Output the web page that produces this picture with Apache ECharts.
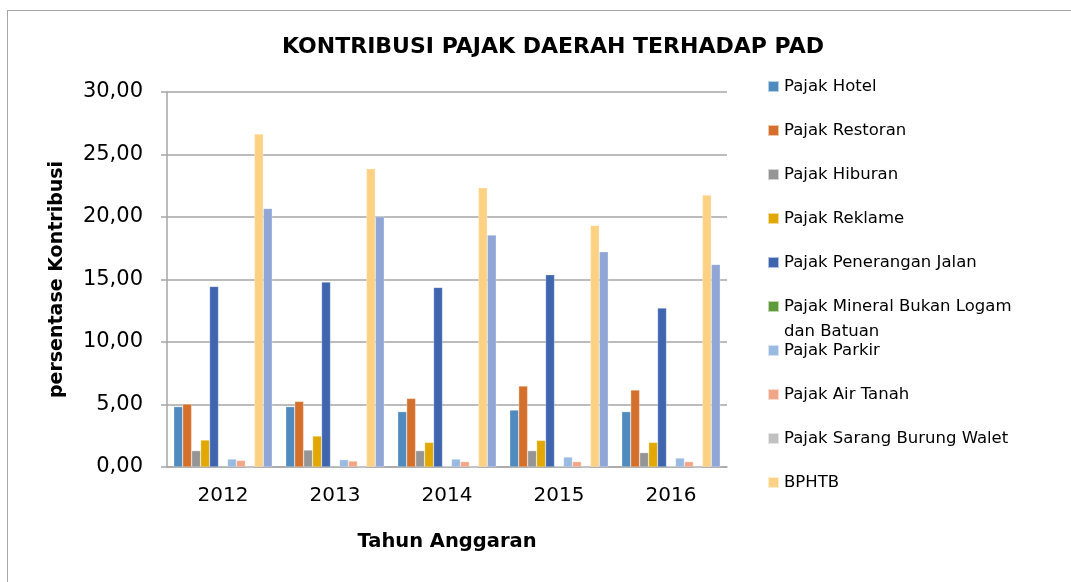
<!DOCTYPE html>
<html>
<head>
<meta charset="utf-8">
<script src="https://cdn.jsdelivr.net/npm/echarts@6/dist/echarts.min.js"></script>
<style>
html,body{margin:0;padding:0;background:#fff;}
#frame{position:absolute;left:7px;top:10px;width:1064px;height:572px;border-left:1.5px solid #a6a6a6;border-top:1.5px solid #a6a6a6;box-sizing:border-box;}
#chart{position:absolute;left:0;top:0;width:1071px;height:582px;}
</style>
</head>
<body>
<div id="frame"></div>
<div id="chart"></div>
<script>
const years = ['2012', '2013', '2014', '2015', '2016'];
const seriesNames = ['Pajak Hotel', 'Pajak Restoran', 'Pajak Hiburan', 'Pajak Reklame', 'Pajak Penerangan Jalan', 'Pajak Mineral Bukan Logam dan Batuan', 'Pajak Parkir', 'Pajak Air Tanah', 'Pajak Sarang Burung Walet', 'BPHTB', 'PBB'];
const pajakHotel      = [4.83, 4.83, 4.43, 4.56, 4.43];
const pajakRestoran   = [5.04, 5.25, 5.49, 6.48, 6.16];
const pajakHiburan    = [1.31, 1.36, 1.31, 1.31, 1.15];
const pajakReklame    = [2.16, 2.48, 1.97, 2.13, 1.97];
const pajakPenerangan = [14.45, 14.80, 14.37, 15.39, 12.72];
const pajakMineral    = [0.08, 0.08, 0.05, 0.05, 0.05];
const pajakParkir     = [0.64, 0.59, 0.64, 0.80, 0.72];
const pajakAirTanah   = [0.53, 0.48, 0.43, 0.43, 0.43];
const pajakWalet      = [0.01, 0.01, 0.01, 0.01, 0.01];
const bphtb           = [26.64, 23.87, 22.35, 19.33, 21.76];
const pbb             = [20.69, 20.03, 18.56, 17.23, 16.21];
const yTicks = [0, 5, 10, 15, 20, 25, 30];

const allValues = [pajakHotel, pajakRestoran, pajakHiburan, pajakReklame, pajakPenerangan, pajakMineral, pajakParkir, pajakAirTanah, pajakWalet, bphtb, pbb];
const colors = ['#4f8bbf', '#d5702c', '#959595', '#e1a900', '#3e65ae', '#5f9a3d', '#99bbe1', '#f2a688', '#c1c1c1', '#ffd185', '#8fa6d6'];
const FONT = '"DejaVu Sans", sans-serif';

const chart = echarts.init(document.getElementById('chart'), null, {renderer: 'canvas'});
chart.setOption({
  animation: false,
  color: colors,
  textStyle: {fontFamily: FONT},
  title: {
    text: 'KONTRIBUSI PAJAK DAERAH TERHADAP PAD',
    left: 548, top: 31, textAlign: 'center',
    textStyle: {fontFamily: FONT, fontWeight: 'bold', fontSize: 22, color: '#000'}
  },
  grid: {left: 167, right: 344, top: 92, bottom: 115, containLabel: false},
  legend: {
    orient: 'vertical', left: 762, top: 73,
    data: seriesNames.slice(0, 10),
    icon: 'rect', itemWidth: 11, itemHeight: 11, itemGap: 27,
    formatter: function (n) { return n === 'Pajak Mineral Bukan Logam dan Batuan' ? 'Pajak Mineral Bukan Logam' : n; },
    textStyle: {fontFamily: FONT, fontSize: 16.5, lineHeight: 16, color: '#000'}
  },
  graphic: [{
    type: 'text', left: 784, top: 323,
    style: {text: 'dan Batuan', fontFamily: FONT, fontSize: 16.5, fill: '#000'}
  }],
  xAxis: {
    type: 'category', data: years,
    name: 'Tahun Anggaran', nameLocation: 'middle', nameGap: 65,
    nameTextStyle: {fontFamily: FONT, fontWeight: 'bold', fontSize: 19.5, color: '#000'},
    axisLine: {lineStyle: {color: '#a6a6a6', width: 1.5}},
    axisTick: {show: false},
    axisLabel: {fontFamily: FONT, fontSize: 20, color: '#000', margin: 19}
  },
  yAxis: {
    type: 'value', min: 0, max: 30, interval: 5,
    name: 'persentase Kontribusi', nameLocation: 'middle', nameGap: 100,
    nameTextStyle: {fontFamily: FONT, fontWeight: 'bold', fontSize: 19, color: '#000'},
    axisLine: {show: true, lineStyle: {color: '#a6a6a6', width: 1.5}},
    axisTick: {show: true, length: 6, lineStyle: {color: '#a6a6a6', width: 1.5}},
    splitLine: {lineStyle: {color: '#a6a6a6', width: 1.5}},
    axisLabel: {
      fontFamily: FONT, fontSize: 21, color: '#000', margin: 24,
      formatter: function (v) { return yTicks.indexOf(v) >= 0 ? v.toFixed(2).replace('.', ',') : ''; }
    }
  },
  series: seriesNames.map(function (n, i) {
    return {
      name: n, type: 'bar', data: allValues[i],
      barGap: '0%', barCategoryGap: '12%',
      itemStyle: {color: colors[i], borderColor: 'rgba(255,255,255,0.6)', borderWidth: 0.5}
    };
  })
});
</script>
</body>
</html>
